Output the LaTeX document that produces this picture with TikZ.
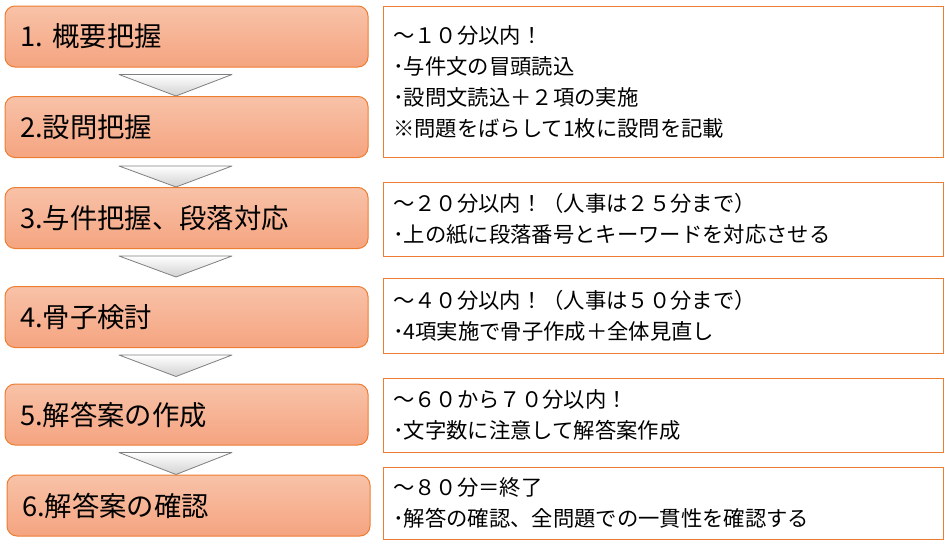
\documentclass[tikz,border=0pt]{standalone}
\usepackage{fontspec}
\setmainfont{Noto Sans CJK JP}
\usetikzlibrary{calc}
\definecolor{phasetop}{HTML}{F8C2A8}
\definecolor{phasebot}{HTML}{F5A480}
\definecolor{phaseedge}{HTML}{ED7D31}
\definecolor{downedge}{HTML}{7F7F7F}

\begin{document}
\begin{tikzpicture}[x=0.75pt,y=-0.75pt]
	\tikzstyle{phase}=[rectangle,draw=phaseedge,line width=0.75pt,rounded corners=7.5pt,top color=phasetop,bottom color=phasebot,minimum width=272.25pt,minimum height=45.75pt,inner xsep=11.25pt,inner ysep=0pt,text width=249.75pt,align=left,font=\fontsize{20.5}{24}\selectfont]
	\tikzstyle{memo}=[rectangle,draw=phaseedge,line width=0.75pt,fill=white,minimum width=420pt,inner xsep=7.5pt,inner ysep=0pt,text width=405pt,align=left,font=\fontsize{16}{23.25}\selectfont]
	\tikzstyle{down}=[draw=downedge,line width=0.6pt,top color=white,bottom color=black!18,line join=round]
	\useasboundingbox (0,0) rectangle (948,546);
	% left column: the six phases
	\node (outline)  at (186.5,36.5)  [phase] {1.\hspace{0.35em}概要把握};
	\node (question) at (186.5,127)   [phase] {2.設問把握};
	\node (facts)    at (186.5,218)   [phase] {3.与件把握、段落対応};
	\node (skeleton) at (186.5,317)   [phase] {4.骨子検討};
	\node (draft)    at (186.5,414.5) [phase] {5.解答案の作成};
	\node (check)    at (188.5,505.5) [phase] {6.解答案の確認};
	% right column: time limits and notes
	\node (memoA) at (663,81.5)  [memo,minimum height=113.25pt] {～１０分以内！\\･与件文の冒頭読込\\･設問文読込＋２項の実施\\※問題をばらして1枚に設問を記載};
	\node (memoB) at (663,219)   [memo,minimum height=55.5pt] {～２０分以内！（人事は２５分まで）\\･上の紙に段落番号とキーワードを対応させる};
	\node (memoC) at (663,315.5) [memo,minimum height=56.25pt] {～４０分以内！（人事は５０分まで）\\･4項実施で骨子作成＋全体見直し};
	\node (memoD) at (663,415)   [memo,minimum height=55.5pt] {～６０から７０分以内！\\･文字数に注意して解答案作成};
	\node (memoE) at (663,503)   [memo,minimum height=54pt] {～８０分＝終了\\･解答の確認、全問題での一貫性を確認する};
	% down arrows between the phases
	\draw [down] ($(outline.south)+(-67.5,7)$)  -- ($(outline.south)+(45.5,7)$)  -- ($(question.north)+(-10.5,0)$) -- cycle;
	\draw [down] ($(question.south)+(-67.5,8)$) -- ($(question.south)+(45.5,8)$) -- ($(facts.north)+(-10.5,0)$)    -- cycle;
	\draw [down] ($(facts.south)+(-67.5,7)$)    -- ($(facts.south)+(45.5,7)$)    -- ($(skeleton.north)+(-10.5,-9)$) -- cycle;
	\draw [down] ($(skeleton.south)+(-67.5,7)$) -- ($(skeleton.south)+(45.5,7)$) -- ($(draft.north)+(-10.5,-7)$)    -- cycle;
	\draw [down] ($(draft.south)+(-67.5,7)$)    -- ($(draft.south)+(45.5,7)$)    -- ($(check.north)+(-12.5,0)$)    -- cycle;
\end{tikzpicture}
\end{document}
